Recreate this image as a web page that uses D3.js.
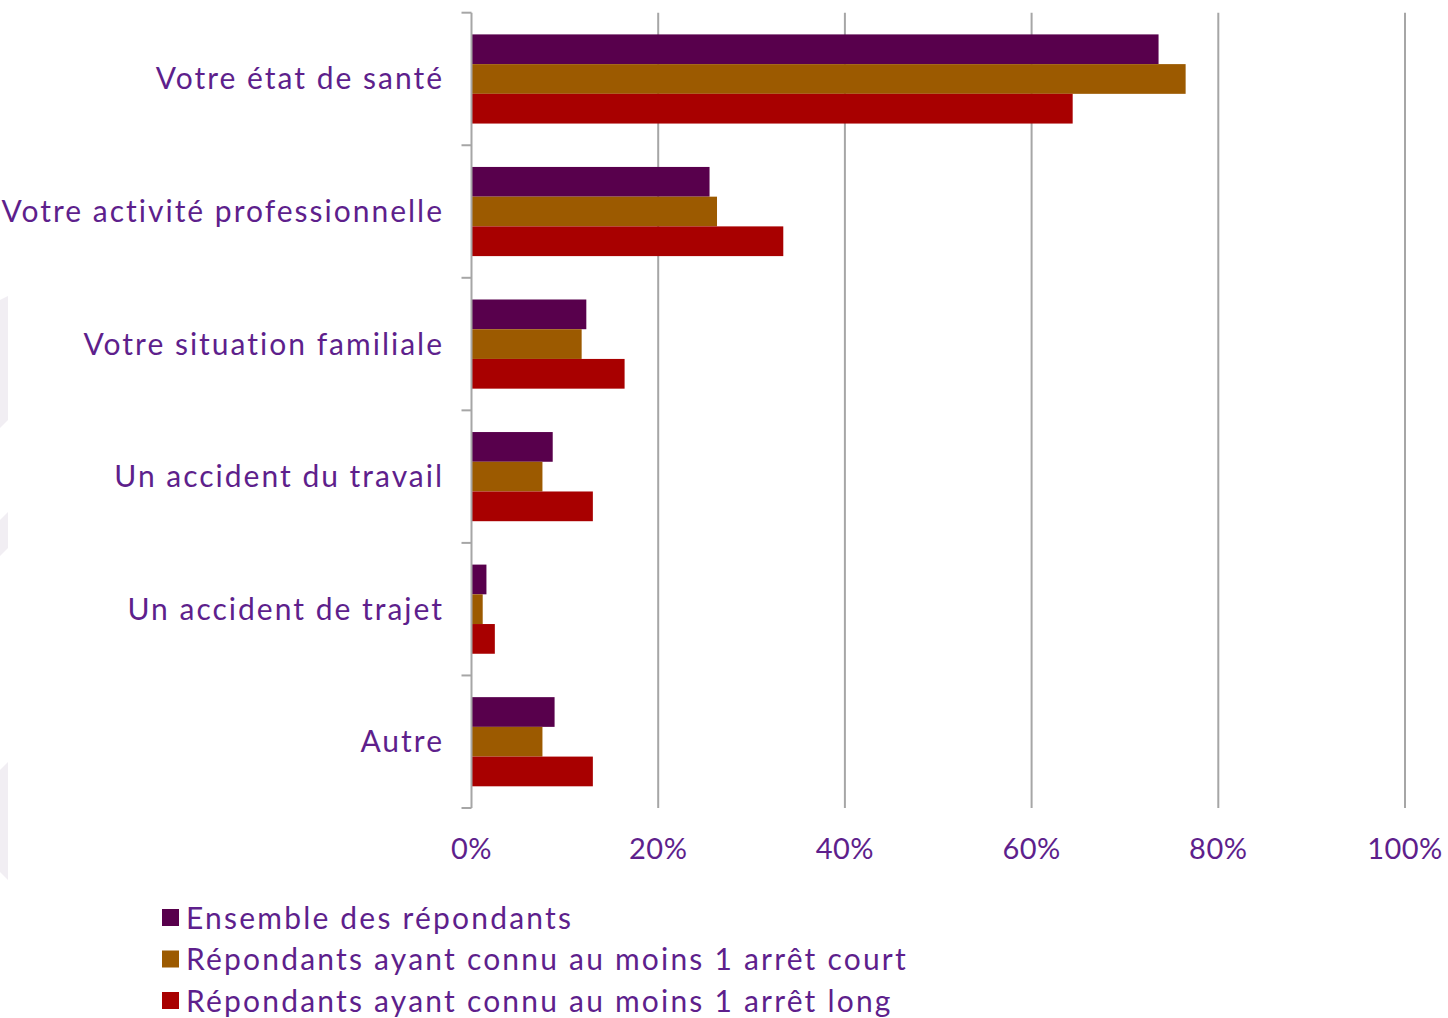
<!DOCTYPE html>
<html>
<head>
<meta charset="utf-8">
<script src="https://cdn.jsdelivr.net/npm/d3@7"></script>
<style>
  html, body { margin: 0; padding: 0; background: #ffffff; }
  svg { display: block; }
  text { font-family: "Lato", "Open Sans", sans-serif; fill: #5e1f8c; }
</style>
</head>
<body>
<svg id="chart" width="1448" height="1018"></svg>
<script>
const categories = [
  "Votre état de santé",
  "Votre activité professionnelle",
  "Votre situation familiale",
  "Un accident du travail",
  "Un accident de trajet",
  "Autre"
];
const seriesNames = [
  "Ensemble des répondants",
  "Répondants ayant connu au moins 1 arrêt court",
  "Répondants ayant connu au moins 1 arrêt long"
];
const ensembleValues = [73.6, 25.5, 12.3, 8.7, 1.6, 8.9];
const courtValues    = [76.5, 26.3, 11.8, 7.6, 1.2, 7.6];
const longValues     = [64.4, 33.4, 16.4, 13.0, 2.5, 13.0];
const tickValues = [0, 20, 40, 60, 80, 100];
const tickLabels = ["0%", "20%", "40%", "60%", "80%", "100%"];
const seriesColors = ["#58004c", "#9c5a00", "#a80000"];

const seriesValues = [ensembleValues, courtValues, longValues];

const svg = d3.select("#chart");

// faint background decoration on the left edge
const deco = svg.append("g").attr("fill", "#f1eef3");
deco.append("polygon").attr("points", "0,300 8,296 8,420 0,428");
deco.append("polygon").attr("points", "0,520 8,512 8,548 0,556");
deco.append("polygon").attr("points", "0,770 8,762 8,880 0,872");

const x = d3.scaleLinear().domain([0, 100]).range([471.5, 1405]);
const y = d3.scaleBand().domain(categories).range([12.7, 808]).padding(0);
const inner = d3.scaleBand().domain(d3.range(seriesNames.length))
  .range([0, y.bandwidth()]).paddingInner(0).paddingOuter(0.73);

// vertical gridlines
svg.append("g").selectAll("line")
  .data(tickValues.filter(d => d > 0))
  .join("line")
  .attr("x1", d => x(d)).attr("x2", d => x(d))
  .attr("y1", y.range()[0]).attr("y2", y.range()[1])
  .attr("stroke", "#a6a6a6").attr("stroke-width", 2);

// bars
const groups = svg.append("g").selectAll("g")
  .data(categories)
  .join("g")
  .attr("transform", d => `translate(0,${y(d)})`);

groups.selectAll("rect")
  .data((c, i) => seriesValues.map((vals, s) => ({ s, v: vals[i] })))
  .join("rect")
  .attr("x", x(0))
  .attr("y", d => inner(d.s))
  .attr("width", d => x(d.v) - x(0))
  .attr("height", inner.bandwidth())
  .attr("fill", d => seriesColors[d.s]);

// y axis line + ticks at band boundaries
const bounds = categories.map(c => y(c)).concat([y.range()[1]]);
const yAxis = svg.append("g");
yAxis.append("line")
  .attr("x1", x(0)).attr("x2", x(0))
  .attr("y1", y.range()[0]).attr("y2", y.range()[1])
  .attr("stroke", "#a6a6a6").attr("stroke-width", 2);
yAxis.selectAll("line.tick")
  .data(bounds)
  .join("line")
  .attr("class", "tick")
  .attr("x1", x(0) - 10).attr("x2", x(0))
  .attr("y1", d => d).attr("y2", d => d)
  .attr("stroke", "#a6a6a6").attr("stroke-width", 2);

// category labels
svg.append("g").selectAll("text")
  .data(categories)
  .join("text")
  .attr("x", 444)
  .attr("y", d => y(d) + y.bandwidth() / 2)
  .attr("dy", "0.35em")
  .attr("text-anchor", "end")
  .attr("font-size", 30)
  .attr("letter-spacing", 2)
  .text(d => d);

// x tick labels
svg.append("g").selectAll("text")
  .data(tickValues)
  .join("text")
  .attr("x", d => x(d))
  .attr("y", 859)
  .attr("text-anchor", "middle")
  .attr("font-size", 29)
  .attr("letter-spacing", 0.5)
  .text((d, i) => tickLabels[i]);

// legend
const legend = svg.append("g").selectAll("g")
  .data(seriesNames)
  .join("g")
  .attr("transform", (d, i) => `translate(162,${918 + i * 41.5})`);
legend.append("rect")
  .attr("x", 0).attr("y", -9)
  .attr("width", 17).attr("height", 17)
  .attr("fill", (d, i) => seriesColors[i]);
legend.append("text")
  .attr("x", 24).attr("y", 0)
  .attr("dy", "0.35em")
  .attr("font-size", 30)
  .attr("letter-spacing", 2.2)
  .text(d => d);
</script>
</body>
</html>
